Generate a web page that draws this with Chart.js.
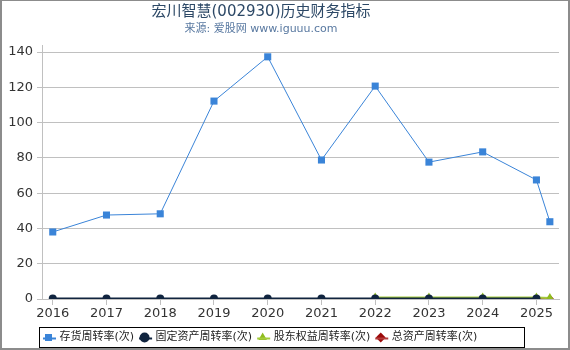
<!DOCTYPE html>
<html>
<head>
<meta charset="utf-8">
<script src="https://cdn.jsdelivr.net/npm/chart.js@4/dist/chart.umd.min.js"></script>
<style>
	html, body { margin: 0; padding: 0; background: #fff; }
	#wrap { width: 570px; height: 350px; box-sizing: border-box; border: 2px solid #8c8c8c; border-top-width: 1px; }
	#box { position: relative; width: 566px; height: 347px; }
	.head { position: absolute; left: 0; width: 518px; text-align: center; font-family: "DejaVu Sans", "Noto Sans CJK SC", sans-serif; white-space: nowrap; }
	#title { top: 1px; font-size: 15px; line-height: 19px; color: #2c4866; }
	#subtitle { top: 20px; font-size: 11px; line-height: 16px; color: #5878a0; }
</style>
</head>
<body>
<div id="wrap"><div id="box">
	<div class="head" id="title">宏川智慧(002930)历史财务指标</div>
	<div class="head" id="subtitle">来源: 爱股网 www.iguuu.com</div>
	<canvas id="chart"></canvas>
</div></div>
<script>
// data
const periods = [2016, 2017, 2018, 2019, 2020, 2021, 2022, 2023, 2024, 2025, 2025.25];
const inventoryTurn = [38, 47.6, 48.3, 112.2, 137.3, 78.8, 120.7, 77.6, 83.4, 67.5, 43.8];
const fixedAssetTurn = [0.3, 0.3, 0.3, 0.3, 0.3, 0.3, 0.3, 0.3, 0.3, 0.3, null];
const equityTurn = [null, null, null, null, null, null, 0.9, 0.9, 0.9, 0.9, 0.6];
const totalAssetTurn = [null, null, null, null, null, null, null, null, null, 0.3, 0.2];
const yTicks = [0, 20, 40, 60, 80, 100, 120, 140];
const seriesNames = ['存货周转率(次)', '固定资产周转率(次)', '股东权益周转率(次)', '总资产周转率(次)'];

const FONT = '"DejaVu Sans", "Noto Sans CJK SC", sans-serif';

function toPoints(values) {
	return periods.map(function(x, i) { return { x: x, y: values[i] }; });
}

// moves the legend row, draws the short line through each marker and the frame round the legend
const legendExtras = {
	id: 'legendExtras',
	afterLayout: function(chart) {
		const lg = chart.legend;
		if(!lg) return;
		lg.left += 36;
		lg.right += 36;
		lg.top += 5;
		lg.bottom += 5;
	},
	beforeDatasetsDraw: function(chart) {
		const lg = chart.legend;
		if(!lg || !lg.legendHitBoxes) return;
		const ctx = chart.ctx;
		ctx.save();
		lg.legendHitBoxes.forEach(function(hb, i) {
			const ds = chart.data.datasets[i];
			const cy = Math.round(hb.top + hb.height / 2) + 0.5;
			ctx.strokeStyle = ds.borderColor;
			ctx.lineWidth = 2;
			ctx.beginPath();
			ctx.moveTo(hb.left, cy);
			ctx.lineTo(hb.left + 13, cy);
			ctx.stroke();
		});
		ctx.restore();
	},
	afterDraw: function(chart) {
		const lg = chart.legend;
		if(!lg || !lg.legendHitBoxes) return;
		const first = lg.legendHitBoxes[0];
		const ctx = chart.ctx;
		ctx.save();
		ctx.strokeStyle = '#000';
		ctx.lineWidth = 1;
		ctx.strokeRect(Math.round(first.left - 4) + 0.5, Math.round(first.top - 5) + 0.5, 485, Math.round(first.height + 9));
		ctx.restore();
	}
};

new Chart(document.getElementById('chart').getContext('2d'), {
	type: 'line',
	data: {
		datasets: [{
			label: seriesNames[0],
			data: toPoints(inventoryTurn),
			borderColor: '#3a84d8',
			backgroundColor: '#3a84d8',
			borderWidth: 1,
			pointStyle: 'rect',
			pointRadius: 5,
			pointBorderWidth: 0
		}, {
			label: seriesNames[1],
			data: toPoints(fixedAssetTurn),
			borderColor: '#10243f',
			backgroundColor: '#10243f',
			borderWidth: 2,
			pointStyle: 'circle',
			pointRadius: 4,
			pointBorderWidth: 0
		}, {
			label: seriesNames[2],
			data: toPoints(equityTurn),
			borderColor: '#a4cc3c',
			backgroundColor: '#8fbc1e',
			borderWidth: 2,
			pointStyle: 'triangle',
			pointRadius: 5,
			pointBorderWidth: 0
		}, {
			label: seriesNames[3],
			data: toPoints(totalAssetTurn),
			borderColor: '#b33a3a',
			backgroundColor: '#9c0a0a',
			borderWidth: 2,
			pointStyle: 'rectRot',
			pointRadius: 4,
			pointBorderWidth: 0
		}]
	},
	options: {
		responsive: true,
		maintainAspectRatio: false,
		animation: false,
		layout: { padding: { left: 0, right: 9, top: 44, bottom: 0 } },
		scales: {
			x: {
				type: 'linear',
				min: 2015.8,
				max: 2025.42,
				afterBuildTicks: function(scale) {
					scale.ticks = periods.filter(function(p) { return Number.isInteger(p); }).map(function(v) { return { value: v }; });
				},
				afterFit: function(scale) { scale.height = 23; },
				ticks: {
					color: '#333',
					font: { family: FONT, size: 13 },
					padding: 1,
					maxRotation: 0,
					autoSkip: false,
					callback: function(v) { return String(v); }
				},
				grid: { drawOnChartArea: false, color: '#c0c0c0', tickLength: 6 },
				border: { color: '#c0c0c0' }
			},
			y: {
				min: 0,
				max: 144,
				afterBuildTicks: function(scale) {
					scale.ticks = yTicks.map(function(v) { return { value: v }; });
				},
				afterFit: function(scale) { scale.width = 40; },
				ticks: {
					color: '#333',
					font: { family: FONT, size: 13 },
					padding: 4
				},
				grid: { color: '#c0c0c0', tickLength: 5 },
				border: { color: '#c0c0c0' }
			}
		},
		plugins: {
			title: { display: false },
			legend: {
				position: 'bottom',
				align: 'start',
				labels: {
					usePointStyle: true,
					boxWidth: 12,
					boxHeight: 7,
					padding: 5,
					color: '#222',
					font: { family: FONT, size: 11 }
				}
			},
			tooltip: { enabled: false }
		}
	},
	plugins: [legendExtras]
});
</script>
</body>
</html>
